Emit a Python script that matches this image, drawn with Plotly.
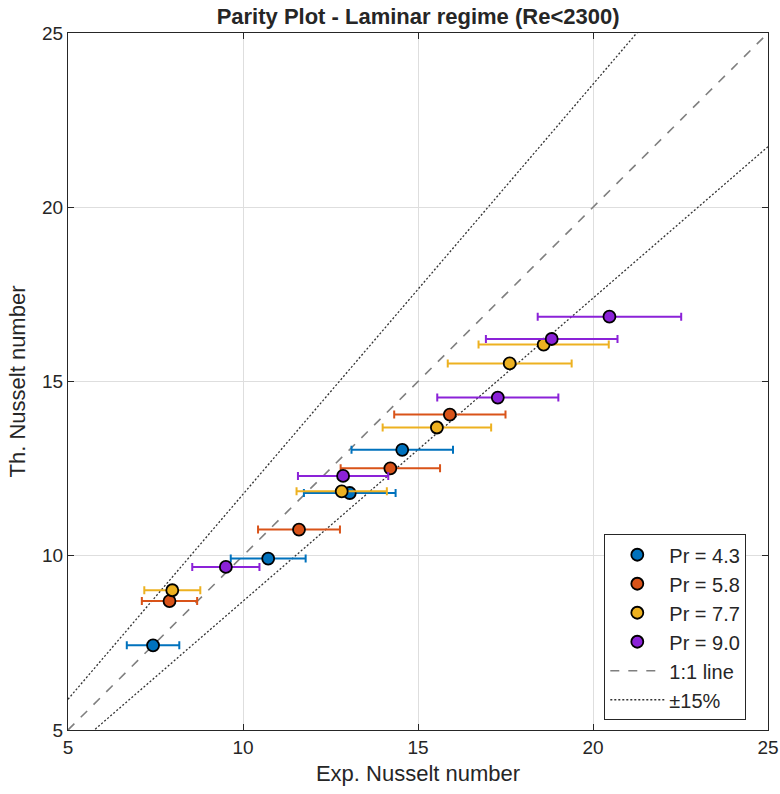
import plotly.graph_objects as go

# Data
pr_labels = ["Pr = 4.3", "Pr = 5.8", "Pr = 7.7", "Pr = 9.0"]
colors = ["#0072BD", "#D95319", "#EDB120", "#8B22D8"]

exp_43 = [7.43, 10.72, 13.05, 14.55]
th_43 = [7.43, 9.92, 11.80, 13.04]
err_43 = [0.75, 1.07, 1.31, 1.45]

exp_58 = [7.90, 11.60, 14.21, 15.91]
th_58 = [8.70, 10.75, 12.51, 14.05]
err_58 = [0.79, 1.17, 1.42, 1.59]

exp_77 = [7.98, 12.82, 15.54, 17.62, 18.59]
th_77 = [9.01, 11.85, 13.68, 15.52, 16.06]
err_77 = [0.80, 1.29, 1.55, 1.77, 1.86]

exp_90 = [9.51, 12.86, 17.28, 18.82, 20.47]
th_90 = [9.68, 12.29, 14.54, 16.22, 16.86]
err_90 = [0.96, 1.29, 1.73, 1.88, 2.05]

line_x = [5, 25]
band = 0.15

series = [(exp_43, th_43, err_43), (exp_58, th_58, err_58),
          (exp_77, th_77, err_77), (exp_90, th_90, err_90)]

FONT = "Liberation Sans, Arial, Helvetica, sans-serif"
fig = go.Figure()

# reference lines
fig.add_trace(go.Scatter(x=line_x, y=line_x, mode="lines", name="1:1 line",
                         line=dict(color="#7f7f7f", dash="dash", width=1.6),
                         legendrank=5))
fig.add_trace(go.Scatter(x=line_x, y=[v / (1 - band) for v in line_x], mode="lines",
                         name="\u00b115%", line=dict(color="#333333", dash="2px,2px", width=1.3),
                         legendrank=6))
fig.add_trace(go.Scatter(x=line_x, y=[v / (1 + band) for v in line_x], mode="lines",
                         showlegend=False, line=dict(color="#333333", dash="2px,2px", width=1.3)))

for i, (lab, col, (xs, ys, es)) in enumerate(zip(pr_labels, colors, series)):
    fig.add_trace(go.Scatter(
        x=xs, y=ys, mode="markers", name=lab, legendrank=i + 1,
        marker=dict(size=12, color=col, line=dict(color="black", width=1.8)),
        error_x=dict(type="data", array=es, symmetric=True, color=col,
                     thickness=2, width=4),
    ))

axis_common = dict(
    range=[5, 25], dtick=5, tick0=5,
    showline=True, mirror="ticks", linecolor="#262626", linewidth=1,
    ticks="inside", ticklen=6, tickcolor="#262626", tickwidth=1,
    showgrid=True, gridcolor="#dedede", gridwidth=1,
    zeroline=False, automargin=False,
    tickfont=dict(family=FONT, size=19, color="#262626"),
)

fig.update_layout(
    width=780, height=794,
    margin=dict(l=68, r=12, t=33, b=64),
    paper_bgcolor="white", plot_bgcolor="white",
    font=dict(family=FONT, color="#262626"),
    title=dict(text="<b>Parity Plot - Laminar regime (Re<2300)</b>",
               x=0.536, xanchor="center",
               y=0.979, yanchor="middle",
               font=dict(family=FONT, size=22, color="#262626")),
    xaxis=dict(axis_common, title=dict(text="Exp. Nusselt number",
                                         font=dict(family=FONT, size=22, color="#262626"),
                                         standoff=8)),
    yaxis=dict(axis_common, title=dict(text="Th. Nusselt number",
                                         font=dict(family=FONT, size=22, color="#262626"),
                                         standoff=10)),
    legend=dict(x=0.969, y=0.014, xanchor="right", yanchor="bottom",
                bgcolor="white", bordercolor="#262626", borderwidth=1,
                font=dict(family=FONT, size=20, color="#262626"),
                itemwidth=54, tracegroupgap=0),
    showlegend=True,
)

fig.write_html("out.html")
